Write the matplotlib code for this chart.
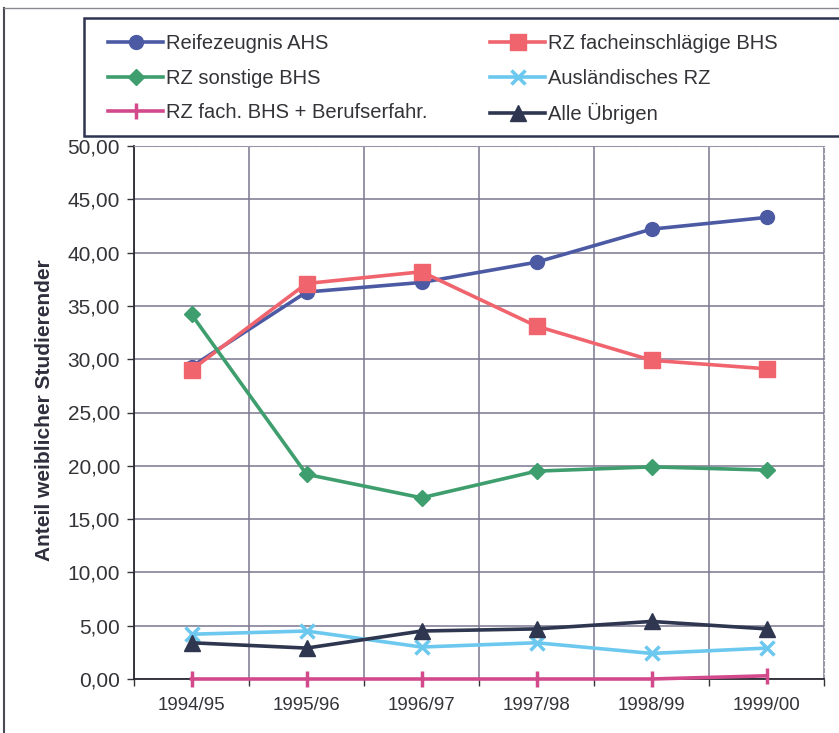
import matplotlib.pyplot as plt
import numpy as np
from matplotlib.patches import Rectangle
from matplotlib.lines import Line2D
from matplotlib.ticker import FixedLocator, NullFormatter, FuncFormatter

# ============================================================
# Data
# ============================================================

YEARS = ["1994/95", "1995/96", "1996/97", "1997/98", "1998/99", "1999/00"]

reife_ahs = [29.3, 36.3, 37.2, 39.1, 42.2, 43.3]
rz_fach_bhs = [29.0, 37.1, 38.2, 33.1, 29.9, 29.1]
rz_sonst_bhs = [34.2, 19.2, 17.0, 19.5, 19.9, 19.6]
ausl_rz = [4.2, 4.5, 3.0, 3.4, 2.4, 2.9]
rz_fach_beruf = [0.0, 0.0, 0.0, 0.0, 0.0, 0.3]
alle_uebrigen = [3.4, 2.9, 4.5, 4.7, 5.4, 4.7]

SERIES = [
    ("Reifezeugnis AHS", reife_ahs, "#4c5aa4", "o", 10),
    ("RZ facheinschlägige BHS", rz_fach_bhs, "#f0646e", "s", 11),
    ("RZ sonstige BHS", rz_sonst_bhs, "#3f9e6e", "D", 8),
    ("Ausländisches RZ", ausl_rz, "#6cc8ee", "x", 10),
    ("RZ fach. BHS + Berufserfahr.", rz_fach_beruf, "#d24a8c", "|", 12),
    ("Alle Übrigen", alle_uebrigen, "#2e3650", "^", 11),
]

plt.rcParams['font.family'] = ['Liberation Sans', 'DejaVu Sans']

# ============================================================
# Figure / axes
# ============================================================

W, H = 839, 733
fig = plt.figure(figsize=(W / 100, H / 100), dpi=100)
ax = fig.add_axes([134 / W, 1 - 679 / H, (824 - 134) / W, (679 - 146) / H])

x = np.arange(len(YEARS))
lines = []
for label, vals, color, marker, ms in SERIES:
    mew = 2.5 if marker in ("x", "|") else 1
    ln, = ax.plot(x, vals, color=color, lw=2.6, marker=marker, markersize=ms,
                  markeredgewidth=mew, markeredgecolor=color, label=label,
                  clip_on=False, zorder=3)
    lines.append(ln)

ax.set_xlim(-0.5, len(YEARS) - 0.5)
ax.set_ylim(0, 50)

grid_col = "#7c7690"
ax.yaxis.set_major_locator(FixedLocator(np.arange(0, 51, 5)))
ax.yaxis.set_major_formatter(FuncFormatter(lambda v, p: f"{v:.2f}".replace(".", ",")))
ax.xaxis.set_major_locator(FixedLocator(x))
ax.set_xticklabels(YEARS)
ax.xaxis.set_minor_locator(FixedLocator(np.arange(-0.5, len(YEARS), 1)))
ax.xaxis.set_minor_formatter(NullFormatter())

ax.tick_params(axis="x", which="major", length=0, pad=13, labelsize=13.5, labelcolor="#333338")
ax.tick_params(axis="x", which="minor", length=5, width=1, color="#333338", direction="out")
ax.tick_params(axis="y", length=5, width=1, color="#333338", pad=5, labelsize=15,
               labelcolor="#333338", direction="out")

ax.grid(True, axis="y", which="major", color=grid_col, lw=1.1)
ax.grid(True, axis="x", which="minor", color=grid_col, lw=1.1)
ax.set_axisbelow(True)

for side in ("top", "right"):
    ax.spines[side].set_color("#9a96a8")
    ax.spines[side].set_linestyle((0, (4, 2)))
    ax.spines[side].set_linewidth(0.8)
for side in ("left", "bottom"):
    ax.spines[side].set_color("#2a2a34")
    ax.spines[side].set_linewidth(1.3)

fig.text(45 / W, 1 - 410 / H, "Anteil weiblicher Studierender", rotation=90,
         ha="center", va="center", fontsize=15, fontweight="bold", color="#2e2e3c")

# ============================================================
# Borders / legend
# ============================================================

fig.add_artist(Line2D([4 / W, 4 / W], [0, 1 - 8 / H], color="#4a4a54", lw=1.5))
fig.add_artist(Line2D([4 / W, 1], [1 - 8 / H, 1 - 8 / H], color="#8a8a94", lw=1.0))

fig.add_artist(Rectangle((84 / W, 1 - 136 / H), 1.0, (136 - 18) / H,
                         transform=fig.transFigure, fill=True, facecolor="white",
                         edgecolor="#2e3450", lw=1.8, clip_on=False, zorder=1))

leg_kw = dict(loc="upper left", ncol=1, frameon=False, fontsize=14.5,
              handlelength=2.75, handletextpad=0.12, labelspacing=0.78,
              borderpad=0, borderaxespad=0, labelcolor="#333338")
fig.legend(handles=lines[0::2], bbox_to_anchor=(108 / W, 1 - 34 / H), **leg_kw)
fig.legend(handles=lines[1::2], bbox_to_anchor=(490 / W, 1 - 34 / H), **leg_kw)

plt.savefig("out.png", dpi=100)
